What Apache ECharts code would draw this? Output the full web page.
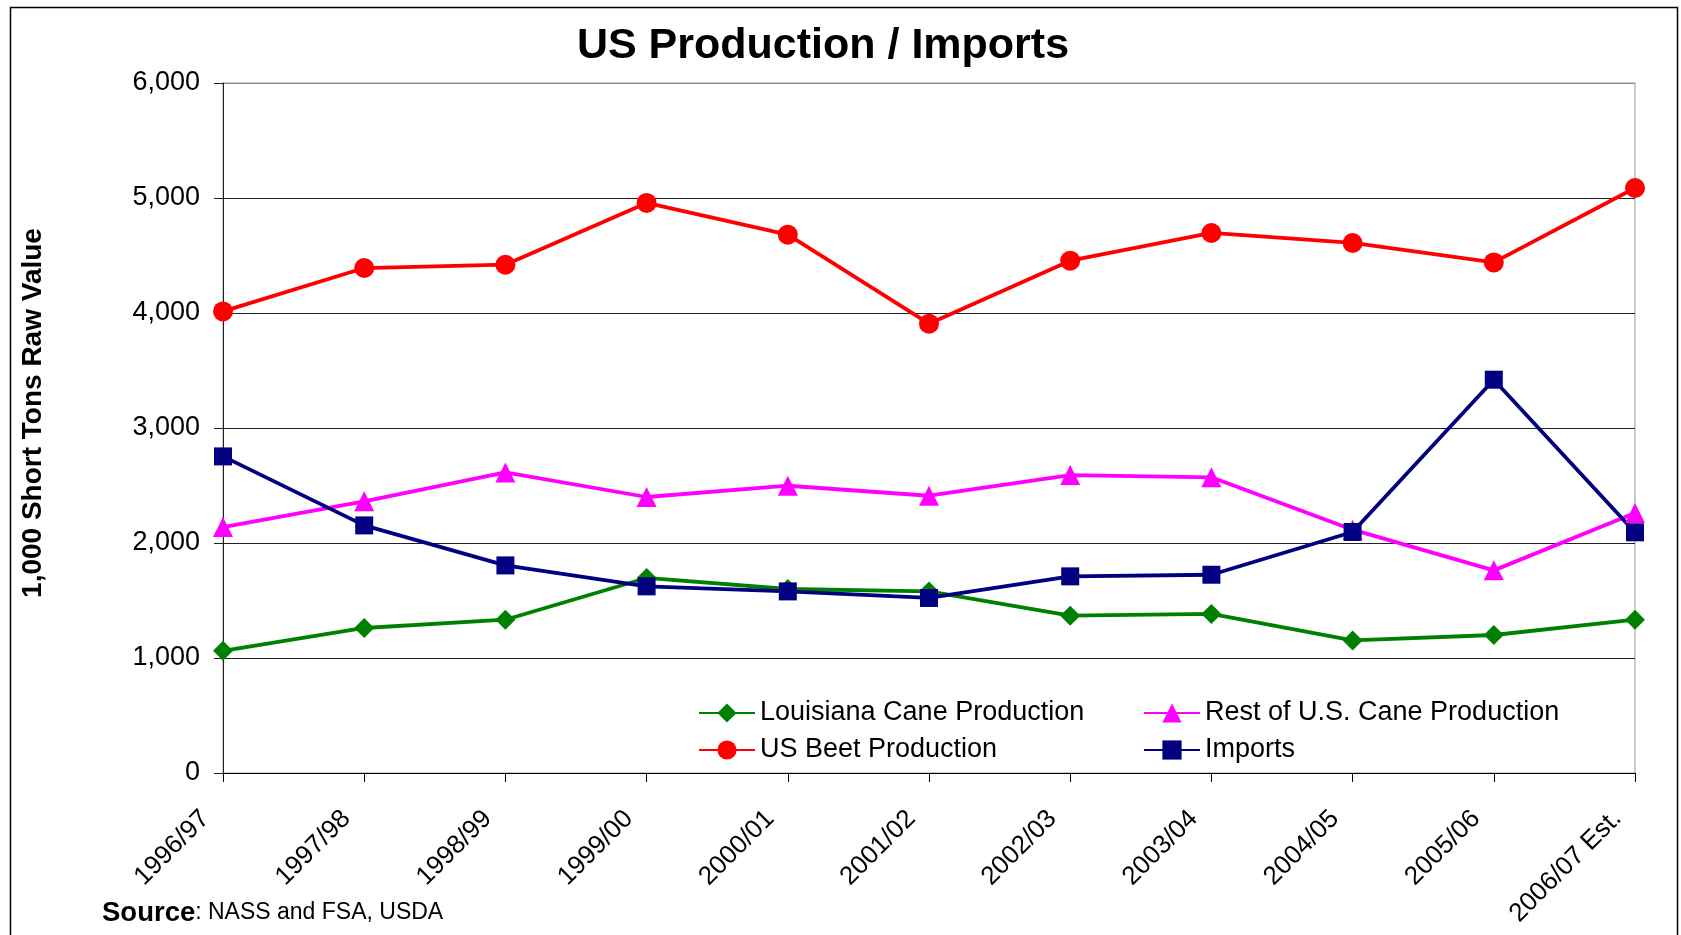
<!DOCTYPE html>
<html>
<head>
<meta charset="utf-8">
<script src="https://cdn.jsdelivr.net/npm/echarts@6/dist/echarts.min.js"></script>
<style>
html,body{margin:0;padding:0;background:#fff;}
#chart{width:1681px;height:935px;}
</style>
</head>
<body>
<div id="chart"></div>
<script>
const categories = ['1996/97','1997/98','1998/99','1999/00','2000/01','2001/02','2002/03','2003/04','2004/05','2005/06','2006/07 Est.'];
const louisianaCane = [1063, 1261, 1333, 1696, 1600, 1579, 1368, 1383, 1153, 1200, 1333];
const restOfUSCane = [2139, 2362, 2614, 2400, 2498, 2411, 2591, 2571, 2116, 1762, 2261];
const usBeet = [4014, 4391, 4420, 4957, 4681, 3907, 4455, 4696, 4609, 4440, 5087];
const imports = [2753, 2153, 1805, 1623, 1579, 1522, 1710, 1724, 2096, 3420, 2093];
const seriesNames = ['Louisiana Cane Production','Rest of U.S. Cane Production','US Beet Production','Imports'];
const chartTitle = 'US Production / Imports';
const yAxisTitle = '1,000 Short Tons Raw Value';

const FONT = '"Liberation Sans", Arial, sans-serif';
const chart = echarts.init(document.getElementById('chart'));

function lineSeries(name, data, color, symbol, size) {
  return {
    name, type: 'line', data, symbol, symbolSize: size,
    lineStyle: { color, width: 3.8 },
    itemStyle: { color },
    emphasis: { disabled: true },
    animation: false
  };
}

chart.setOption({
  backgroundColor: '#fff',
  animation: false,
  textStyle: { fontFamily: FONT, color: '#000' },
  title: {
    text: chartTitle,
    left: 818, top: 20, textAlign: 'center',
    textStyle: { fontFamily: FONT, fontSize: 43, fontWeight: 'bold', color: '#000' }
  },
  grid: { left: 223, right: 46, top: 83, bottom: 162, show: true, borderColor: '#999', borderWidth: 1 },
  legend: [
    {
      data: [seriesNames[0], seriesNames[2]], orient: 'vertical', left: 698, top: 698, padding: 0,
      itemWidth: 56, itemHeight: 24, itemGap: 7,
      textStyle: { fontFamily: FONT, fontSize: 27, lineHeight: 30, color: '#000' }
    },
    {
      data: [seriesNames[1], seriesNames[3]], orient: 'vertical', left: 1143, top: 698, padding: 0,
      itemWidth: 56, itemHeight: 24, itemGap: 7,
      textStyle: { fontFamily: FONT, fontSize: 27, lineHeight: 30, color: '#000' }
    }
  ],
  xAxis: {
    type: 'category', data: categories, boundaryGap: false,
    axisLine: { lineStyle: { color: '#000', width: 1 } },
    axisTick: { alignWithLabel: true, length: 9, lineStyle: { color: '#000' } },
    axisLabel: { rotate: 45, fontSize: 26, fontFamily: FONT, color: '#000', margin: 24,
      padding: [0, 25, 0, 0], interval: 0 },
    splitLine: { show: false }
  },
  yAxis: {
    type: 'value', min: 0, max: 6000, interval: 1000,
    axisLine: { show: true, lineStyle: { color: '#222', width: 1 } },
    axisTick: { show: true, inside: false, length: 9, lineStyle: { color: '#222' } },
    axisLabel: { fontSize: 27, fontFamily: FONT, color: '#000', margin: 23,
      formatter: v => v.toLocaleString('en-US') },
    splitLine: { show: true, lineStyle: { color: ['#222','#222','#222','#222','#222','#222','#888'], width: 1 } }
  },
  graphic: [
    { type: 'rect', left: 8, top: 5, shape: { width: 1667, height: 960 },
      style: { fill: 'none', stroke: '#000', lineWidth: 1.5 }, silent: true, z: 100 },
    { type: 'text', x: 33, y: 413, rotation: Math.PI / 2,
      style: { text: yAxisTitle, font: 'bold 28px ' + FONT, fill: '#000',
        textAlign: 'center', textVerticalAlign: 'middle' } },
    { type: 'text', left: 102, top: 899,
      style: { text: '{b|Source}{r|: NASS and FSA, USDA}', rich: {
        b: { fontFamily: FONT, fontSize: 27.5, fontWeight: 'bold', fill: '#000' },
        r: { fontFamily: FONT, fontSize: 23, fill: '#000' } } } }
  ],
  series: [
    lineSeries(seriesNames[0], louisianaCane, '#008000', 'diamond', 20),
    lineSeries(seriesNames[1], restOfUSCane, '#FF00FF', 'triangle', 20),
    lineSeries(seriesNames[2], usBeet, '#FF0000', 'circle', 20),
    lineSeries(seriesNames[3], imports, '#000080', 'rect', 18)
  ]
});
</script>
</body>
</html>
